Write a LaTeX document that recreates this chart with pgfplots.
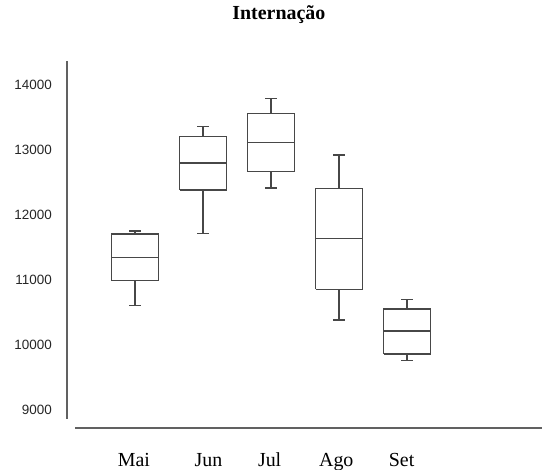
\documentclass[border=0pt]{standalone}
\usepackage{fontspec}
\setmainfont{Liberation Serif}
\newfontfamily\sansf{Liberation Sans}
\usepackage{pgfplots}
\pgfplotsset{compat=1.18}
\begin{document}
\begin{tikzpicture}
\begin{axis}[
  scale only axis,
  width=475bp, height=367bp,
  xmin=-1, xmax=5.985,
  ymin=8723, ymax=14369,
  axis line style={draw=none},
  major tick length=0pt,
  scaled y ticks=false,
  xtick={-0.015,1.08,1.98,2.96,3.92},
  xticklabels={Mai,Jun,Jul,Ago,Set},
  xticklabel style={font=\fontsize{20}{20}\selectfont, anchor=base, yshift=-38bp, inner sep=0pt},
  ytick={9000,10000,11000,12000,13000,14000},
  yticklabels={9000,10000,11000,12000,13000,14000},
  yticklabel style={font=\sansf\fontsize{13.5}{13.5}\selectfont, text=black!85, anchor=east, inner sep=0pt, xshift=-15bp},
  title={\textbf{Internação}},
  title style={font=\fontsize{20}{20}\selectfont, at={(0.446,1)}, anchor=base, yshift=36bp, inner sep=0pt},
  clip=false,
  unbounded coords=jump,
  bx/.style={draw=black!72, line width=1.4bp, mark=none, solid},
]
% Mai: lw 10605, q1 10990, med 11343, q3 11708, uw 11754
\addplot[bx] coordinates {(-0.345,10990) (0.345,10990) (0.345,11708) (-0.345,11708) (-0.345,10990)
  (0,nan) (-0.345,11343) (0.345,11343)
  (0,nan) (0,11708) (0,11754) (0,nan) (-0.085,11754) (0.085,11754)
  (0,nan) (0,10990) (0,10605) (0,nan) (-0.085,10605) (0.085,10605)};
% Jun: 11718, 12385, 12800, 13205, 13358
\addplot[bx] coordinates {(0.655,12385) (1.345,12385) (1.345,13205) (0.655,13205) (0.655,12385)
  (1,nan) (0.655,12800) (1.345,12800)
  (1,nan) (1,13205) (1,13358) (1,nan) (0.915,13358) (1.085,13358)
  (1,nan) (1,12385) (1,11718) (1,nan) (0.915,11718) (1.085,11718)};
% Jul: 12415, 12667, 13118, 13564, 13790
\addplot[bx] coordinates {(1.655,12667) (2.345,12667) (2.345,13564) (1.655,13564) (1.655,12667)
  (2,nan) (1.655,13118) (2.345,13118)
  (2,nan) (2,13564) (2,13790) (2,nan) (1.915,13790) (2.085,13790)
  (2,nan) (2,12667) (2,12415) (2,nan) (1.915,12415) (2.085,12415)};
% Ago: 10385, 10856, 11641, 12410, 12923
\addplot[bx] coordinates {(2.655,10856) (3.345,10856) (3.345,12410) (2.655,12410) (2.655,10856)
  (3,nan) (2.655,11641) (3.345,11641)
  (3,nan) (3,12410) (3,12923) (3,nan) (2.915,12923) (3.085,12923)
  (3,nan) (3,10856) (3,10385) (3,nan) (2.915,10385) (3.085,10385)};
% Set: 9764, 9862, 10215, 10554, 10703
\addplot[bx] coordinates {(3.655,9862) (4.345,9862) (4.345,10554) (3.655,10554) (3.655,9862)
  (4,nan) (3.655,10215) (4.345,10215)
  (4,nan) (4,10554) (4,10703) (4,nan) (3.915,10703) (4.085,10703)
  (4,nan) (4,9862) (4,9764) (4,nan) (3.915,9764) (4.085,9764)};
\end{axis}
\draw[black!62, line width=1.6bp] (current axis.north west) -- ([yshift=9bp]current axis.south west);
\draw[black!62, line width=1.6bp] ([xshift=8bp]current axis.south west) -- (current axis.south east);
\pgfresetboundingbox
\path[use as bounding box] ([xshift=-67bp, yshift=-42bp]current axis.south west) rectangle ([xshift=475bp, yshift=428bp]current axis.south west);
\end{tikzpicture}
\end{document}
